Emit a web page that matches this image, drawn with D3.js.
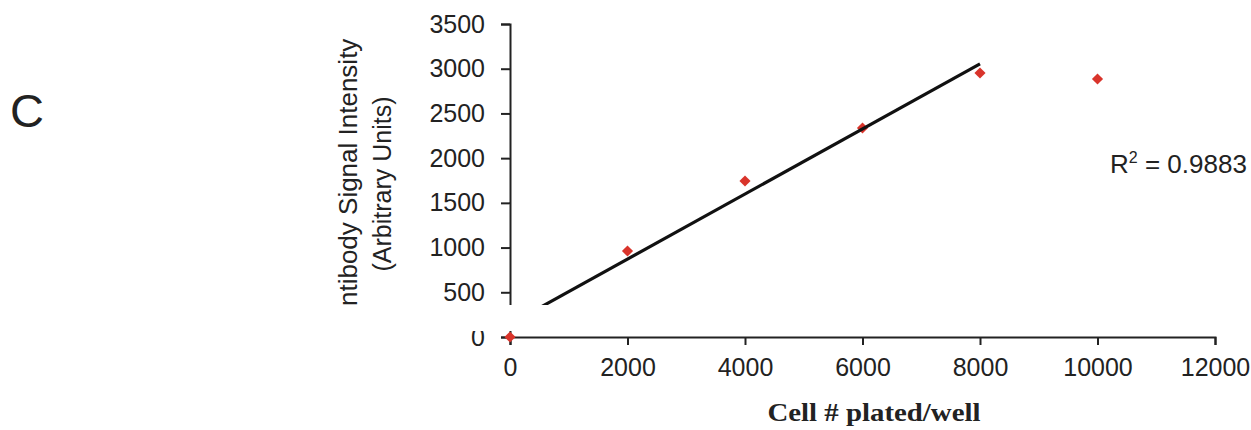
<!DOCTYPE html>
<html>
<head>
<meta charset="utf-8">
<script src="https://cdn.jsdelivr.net/npm/d3@7"></script>
<style>
  body { margin: 0; background: #fff; }
  svg { display: block; }
  .tick text { font-family: "Liberation Sans", Arial, sans-serif; font-size: 25px; fill: #222; }
  .tick line, .domain { stroke: #222; stroke-width: 2px; }
</style>
</head>
<body>
<div id="chart"></div>
<script>
'use strict';

// cells plated per well vs. antibody signal
var cells = [0, 2000, 4000, 6000, 8000, 10000];
var signal = [0, 962, 1744, 2337, 2952, 2885];
// the trendline was fitted on the first five points only
var fitCount = 5;
var xTicks = [0, 2000, 4000, 6000, 8000, 10000, 12000];
var yTicks = [0, 500, 1000, 1500, 2000, 2500, 3000, 3500];
var rSquared = '0.9883';

var width = 1251, height = 430;
var margin = {top: 24, left: 510, right: 36, bottom: 93};

var svg = d3.select('#chart').append('svg')
    .attr('width', width)
    .attr('height', height);

var x = d3.scaleLinear()
  .domain([0, 12000])
  .range([margin.left, width - margin.right]);

var y = d3.scaleLinear()
  .domain([0, 3500])
  .range([height - margin.bottom, margin.top]);

// least squares line over the fitted points
var fitX = cells.slice(0, fitCount), fitY = signal.slice(0, fitCount);
var mx = d3.mean(fitX), my = d3.mean(fitY);
var slope = d3.sum(fitX, function(d, i) { return (d - mx) * (fitY[i] - my); }) /
  d3.sum(fitX, function(d) { return (d - mx) * (d - mx); });
var intercept = my - slope * mx;

svg.append('g')
  .attr('class', 'axis y')
  .attr('transform', 'translate(' + x(0) + ',0)')
  .call(d3.axisLeft(y).tickValues(yTicks).tickSize(9).tickSizeOuter(9).tickPadding(16).tickFormat(d3.format('d')));

svg.append('g')
  .attr('class', 'axis x')
  .attr('transform', 'translate(0,' + y(0) + ')')
  .call(d3.axisBottom(x).tickValues(xTicks).tickSize(8).tickSizeOuter(8).tickPadding(13).tickFormat(d3.format('d')));

svg.selectAll('.axis.x .tick text').attr('dy', '0.71em');

var diamond = d3.symbol().type(d3.symbolSquare).size(62);

svg.append('g')
  .selectAll('path')
  .data(cells)
  .enter()
  .append('path')
  .attr('d', diamond)
  .attr('transform', function(d, i) { return 'translate(' + x(d) + ',' + y(signal[i]) + ') rotate(45)'; })
  .attr('fill', '#d9342b');

var fitEnds = d3.extent(fitX);
svg.append('line')
  .attr('x1', x(fitEnds[0]))
  .attr('y1', y(intercept + slope * fitEnds[0]))
  .attr('x2', x(fitEnds[1]))
  .attr('y2', y(intercept + slope * fitEnds[1]))
  .attr('stroke', '#111')
  .attr('stroke-width', 3.2);

var r2 = svg.append('text')
  .attr('x', 1110)
  .attr('y', 173)
  .style('font-family', '"Liberation Sans", Arial, sans-serif')
  .style('font-size', '26px')
  .style('fill', '#222');
r2.append('tspan').text('R');
r2.append('tspan').attr('dy', -10).style('font-size', '16px').text('2');
r2.append('tspan').attr('dy', 10).text(' = ' + rSquared);

// y axis title, two lines (first line runs into the blank strip)
var yTitle = svg.append('g')
  .style('font-family', '"Liberation Sans", Arial, sans-serif')
  .style('fill', '#222');
yTitle.append('text')
  .attr('transform', 'translate(357,181) rotate(-90)')
  .attr('text-anchor', 'middle')
  .style('font-size', '26px')
  .text('Antibody Signal Intensity');
yTitle.append('text')
  .attr('transform', 'translate(391,184) rotate(-90)')
  .attr('text-anchor', 'middle')
  .style('font-size', '25px')
  .text('(Arbitrary Units)');

// the scan has a blank strip across the lower plot
svg.append('rect')
  .attr('x', 300)
  .attr('y', 305)
  .attr('width', width - 300)
  .attr('height', 26)
  .attr('fill', '#fff');

svg.append('text')
  .attr('x', 874)
  .attr('y', 421)
  .attr('text-anchor', 'middle')
  .attr('textLength', 213)
  .attr('lengthAdjust', 'spacingAndGlyphs')
  .style('font-family', '"Liberation Serif", "Times New Roman", serif')
  .style('font-weight', 'bold')
  .style('font-size', '25px')
  .style('fill', '#222')
  .text('Cell # plated/well');

svg.append('text')
  .attr('x', 27)
  .attr('y', 127)
  .attr('text-anchor', 'middle')
  .style('font-family', '"Liberation Sans", Arial, sans-serif')
  .style('font-size', '47px')
  .style('fill', '#222')
  .text('C');
</script>
</body>
</html>
